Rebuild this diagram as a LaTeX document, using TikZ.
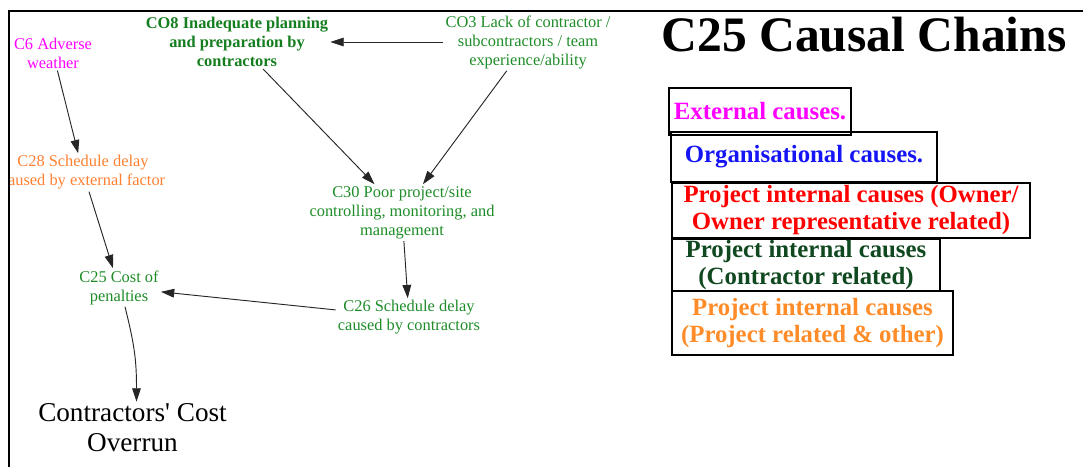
\documentclass[tikz,border=0pt]{standalone}
\usepackage{fontspec}
\setmainfont{Liberation Serif}
\usetikzlibrary{arrows.meta}
\definecolor{cmag}{RGB}{255,0,255}
\definecolor{cgreen}{RGB}{30,140,40}
\definecolor{cgreenb}{RGB}{20,125,30}
\definecolor{corange}{RGB}{255,128,48}
\definecolor{lblue}{RGB}{20,20,245}
\definecolor{lred}{RGB}{255,0,0}
\definecolor{ldgreen}{RGB}{16,72,32}
\definecolor{lorange}{RGB}{255,140,40}
\begin{document}
\begin{tikzpicture}[x=0.75pt,y=-0.75pt,
  lbl/.style={align=center, font=\fontsize{12.3}{14.25}\selectfont, inner sep=1.5pt},
  conn/.style={-{Triangle[length=10pt,width=6.5pt]}, line width=0.7pt, black!85},
  legend/.style={draw, line width=1pt, align=center, inner sep=0pt,
    font=\bfseries\fontsize{18.6}{20.25}\selectfont}]
\useasboundingbox (0,0) rectangle (1083,467);
\draw[line width=1.4pt] (9,467) -- (9,11) -- (1083,11);

% nodes
\node[lbl, text=cmag] (c6) at (53,53) {C6 Adverse\\weather};
\node[lbl, text=cgreenb, font=\bfseries\fontsize{12.3}{14.25}\selectfont] (co8) at (237,42)
  {CO8 Inadequate planning\\and preparation by\\contractors};
\node[lbl, text=cgreen] (co3) at (528,42) {CO3 Lack of contractor /\\subcontractors / team\\experience/ability};
\begin{scope}
  \clip (10,0) rectangle (1083,467);
  \node[lbl, text=corange] (c28) at (83,172.5) {C28 Schedule delay\\caused by external factor};
\end{scope}
\node[lbl, text=cgreen] (c30) at (402,212.7) {C30 Poor project/site\\controlling, monitoring, and\\management};
\node[lbl, text=cgreen] (c26) at (409,317.5) {C26 Schedule delay\\caused by contractors};
\node[lbl, text=cgreen] (c25) at (119,287.5) {C25 Cost of\\penalties};
\node[align=center, font=\fontsize{20.4}{22.5}\selectfont, inner sep=1.5pt] (cco) at (132.5,428)
  {Contractors\textquotesingle{} Cost\\Overrun};

% title
\node[font=\bfseries\fontsize{37.2}{40}\selectfont, anchor=base, inner sep=0pt] (title) at (864,52) {C25 Causal Chains};

% legend
\node[legend, text=cmag, minimum width=136.5pt, minimum height=35.25pt] (leg1) at (760,111.5) {External causes.};
\node[legend, text=lblue, minimum width=199.5pt, minimum height=37.5pt] (leg2) at (804,157) {Organisational causes.};
\node[legend, text=lred, minimum width=268.5pt, minimum height=41.25pt] (leg3) at (851,210.5)
  {Project internal causes (Owner/\\Owner representative related)};
\node[legend, text=ldgreen, minimum width=201pt, minimum height=39pt] (leg4) at (806,265)
  {Project internal causes\\(Contractor related)};
\node[legend, text=lorange, minimum width=210.75pt, minimum height=48pt] (leg5) at (812.5,323)
  {Project internal causes\\(Project related \& other)};

% connectors
\draw[conn] (c6) -- (c28);
\draw[conn] (c28) -- (c25);
\draw[conn] (co8) -- (c30);
\draw[conn] (co3) -- (c30);
\draw[conn] (co3) -- (co8);
\draw[conn] (c30) -- (c26);
\draw[conn] (c26) -- (c25);
\draw[conn] ([xshift=4.5pt]c25.south) .. controls +(10,40) and +(0,-40) .. ([xshift=3pt]cco.north);
\end{tikzpicture}
\end{document}
